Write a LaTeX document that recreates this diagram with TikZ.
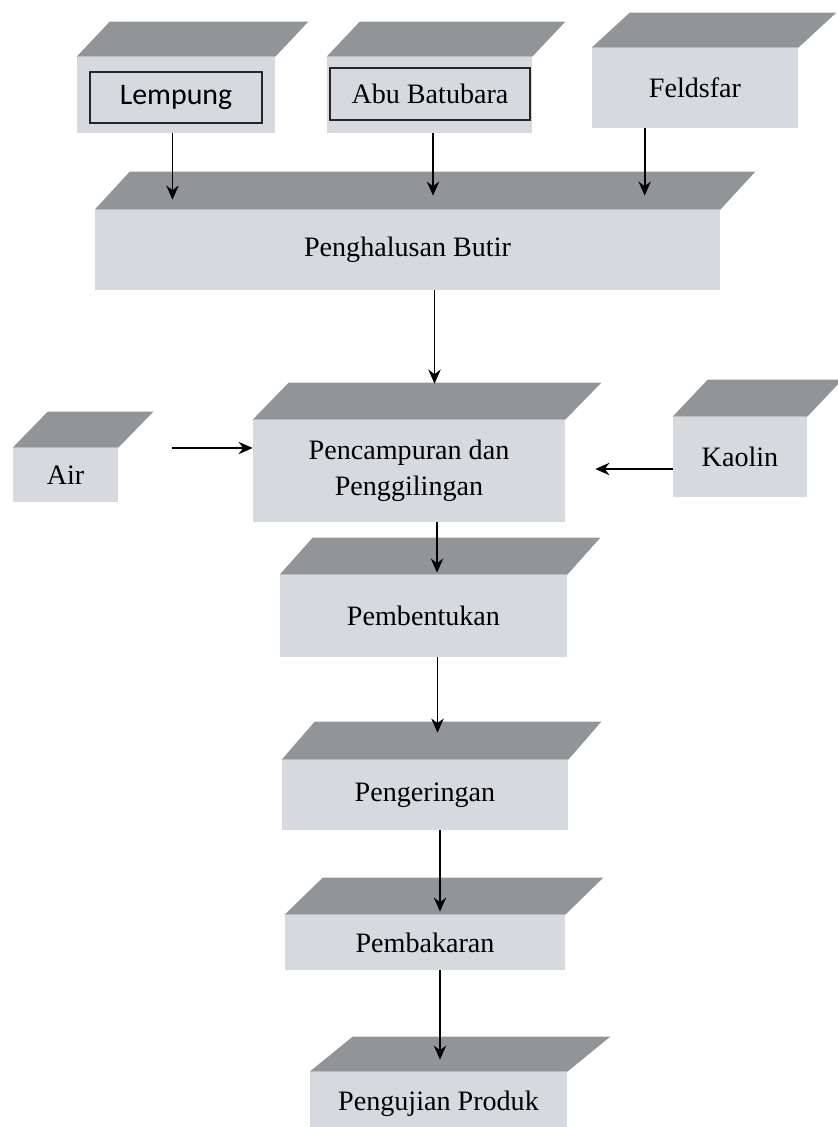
\documentclass[tikz,border=0pt]{standalone}
\usepackage{fontspec}
\setmainfont{Liberation Serif}
\newfontfamily\hurufsans{Carlito}
\usetikzlibrary{arrows.meta,calc}
\definecolor{abuatas}{RGB}{146,149,152}
\definecolor{abudepan}{RGB}{214,218,222}
\newcommand{\atap}[3]{\fill[abuatas] (#1.north west) -- ++(#2,-#3) -- ([shift={(#2,-#3)}]#1.north east) -- (#1.north east) -- cycle;}

\begin{document}
\begin{tikzpicture}[x=0.02cm,y=-0.02cm,
    depan/.style={fill=abudepan,inner sep=0pt,align=center,font=\fontsize{16}{20.5}\selectfont},
    kotak/.style={draw=black!85,line width=1pt,inner sep=0pt,font=\fontsize{16}{20.5}\selectfont},
    panah/.style={-{Stealth[length=8pt,width=7pt]},line width=1.1pt}]
    \useasboundingbox (0,0) rectangle (838,1127);
    \node[depan,minimum width=3.96cm,minimum height=1.52cm] (lempung) at (176,95) {};
    \node[kotak,minimum width=3.44cm,minimum height=1.02cm,font=\hurufsans\fontsize{17}{20}\selectfont] (lempungin) at (176,97.5) {Lempung};
    \node[depan,minimum width=4.1cm,minimum height=1.52cm] (abu) at (429.5,95) {};
    \node[kotak,minimum width=4cm,minimum height=1.04cm] (abuin) at (430,94) {Abu Batubara};
    \node[depan,minimum width=4.12cm,minimum height=1.6cm] (feldsfar) at (695,88) {Feldsfar};
    \node[depan,minimum width=12.5cm,minimum height=1.6cm] (penghalusan) at (407.5,250) {Penghalusan Butir};
    \node[depan,minimum width=2.1cm,minimum height=1.08cm] (air) at (65.5,475) {Air};
    \node[depan,minimum width=6.24cm,minimum height=2.04cm] (pencampuran) at (409,471) {Pencampuran dan\\Penggilingan};
    \node[depan,minimum width=2.68cm,minimum height=1.6cm] (kaolin) at (740,457) {Kaolin};
    \node[depan,minimum width=5.74cm,minimum height=1.64cm] (pembentukan) at (423.5,616) {Pembentukan};
    \node[depan,minimum width=5.72cm,minimum height=1.4cm] (pengeringan) at (425,795) {Pengeringan};
    \node[depan,minimum width=5.6cm,minimum height=1.1cm] (pembakaran) at (425,942.5) {Pembakaran};
    \node[depan,minimum width=5.14cm,minimum height=1.26cm] (pengujian) at (438.5,1103.5) {Pengujian Produk};

    \atap{lempung}{33}{35}
    \atap{abu}{33}{35}
    \atap{feldsfar}{38}{35}
    \atap{penghalusan}{35}{38}
    \atap{air}{35}{36}
    \atap{pencampuran}{36}{37}
    \atap{kaolin}{35}{37}
    \atap{pembentukan}{33}{37}
    \atap{pengeringan}{33}{38}
    \atap{pembakaran}{38}{37}
    \atap{pengujian}{43}{35}

    \coordinate (fx) at ($(feldsfar.south west)+(53,0)$);
    \coordinate (hx) at ($(penghalusan.south)+(27,0)$);
    \coordinate (cx) at ($(pencampuran.south)+(28,0)$);
    \coordinate (bx) at ($(pembentukan.south)+(14,0)$);
    \coordinate (gx) at ($(pengeringan.south)+(15,0)$);
    \coordinate (kx) at ($(pembakaran.south)+(15,0)$);
    \draw[panah] ([xshift=-2pt]lempung.south) -- ($([xshift=-2pt]lempung.south |- penghalusan.north)+(0,-10)$);
    \draw[panah] ([xshift=2pt]abu.south) -- ($([xshift=2pt]abu.south |- penghalusan.north)+(0,-14)$);
    \draw[panah] (fx) -- ($(fx |- penghalusan.north)+(0,-14)$);
    \draw[panah] (hx) -- ($(hx |- pencampuran.north)+(0,-36)$);
    \draw[panah] ($(air.east)+(54,-27)$) -- ($(pencampuran.west)+(0,-23)$);
    \draw[panah] ($(kaolin.west)+(0,12)$) -- ($(pencampuran.east)+(30,-2)$);
    \draw[panah] (cx) -- ($(cx |- pembentukan.north)+(0,-2)$);
    \draw[panah] (bx) -- ($(bx |- pengeringan.north)+(0,-27)$);
    \draw[panah] (gx) -- ($(gx |- pembakaran.north)+(0,-3)$);
    \draw[panah] (kx) -- ($(kx |- pengujian.north)+(0,-12)$);
\end{tikzpicture}
\end{document}
